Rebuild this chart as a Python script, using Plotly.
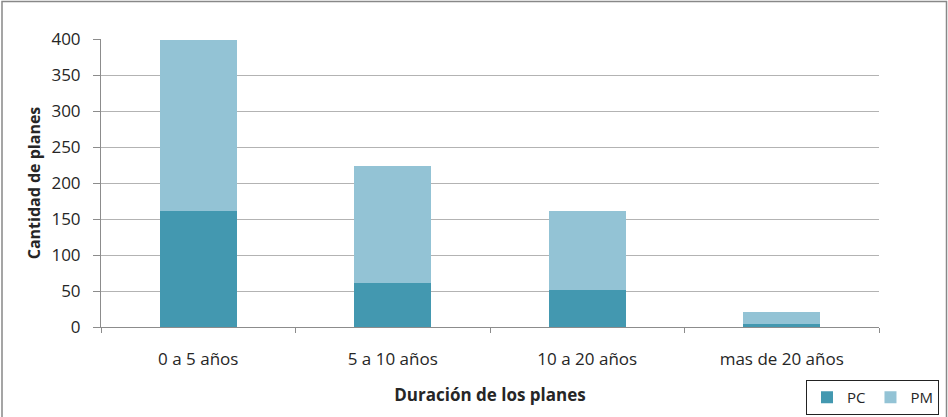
import plotly.graph_objects as go

categories = ["0 a 5 años", "5 a 10 años", "10 a 20 años", "mas de 20 años"]
pc_values = [161, 61, 52, 4]
pm_values = [237, 162, 109, 17]
y_ticks = [0, 50, 100, 150, 200, 250, 300, 350, 400]

W, H = 948, 417
L, R, T, B = 101, 69, 39, 90
pw, ph = W - L - R, H - T - B

def px(x):
    return (x - L) / pw

def py(y):
    return (H - B - y) / ph

font = "'Open Sans', sans-serif"

fig = go.Figure()
fig.add_bar(name="PC", x=categories, y=pc_values, marker_color="#4398B0",
            marker_line_width=0)
fig.add_bar(name="PM", x=categories, y=pm_values, marker_color="#93C3D5",
            marker_line_width=0)

fig.update_layout(
    width=W, height=H, barmode="stack", bargap=0.606,
    margin=dict(l=L, r=R, t=T, b=B, autoexpand=False),
    plot_bgcolor="white", paper_bgcolor="white",
    font=dict(family=font, size=17, color="#262626"),
    showlegend=True,
    legend=dict(orientation="h", x=px(939), y=py(380), xanchor="right", yanchor="top",
                traceorder="normal",
                bordercolor="#222222", borderwidth=1, font=dict(size=15),
                itemwidth=30, tracegroupgap=0),
    xaxis=dict(showgrid=False, showline=True, linecolor="#8C8C8C", linewidth=1,
               ticks="outside", tickson="boundaries", ticklen=5, tickcolor="#8C8C8C",
               ticklabelstandoff=17,
               title=dict(text="<b>Duración de los planes</b>", font=dict(size=17), standoff=19)),
    yaxis=dict(range=[0, 400], tickvals=y_ticks, showgrid=True, gridcolor="#B3B3B3",
               gridwidth=1, showline=True, linecolor="#8C8C8C", linewidth=1,
               ticks="outside", ticklen=7, tickcolor="#8C8C8C", zeroline=False,
               ticklabelstandoff=9,
               title=dict(text="<b>Cantidad de planes</b>", font=dict(size=16), standoff=6)),
    shapes=[dict(type="rect", xref="paper", yref="paper",
                 x0=px(2), x1=px(946.5), y0=py(430), y1=py(1.5),
                 line=dict(color="#888888", width=1.5), layer="below")],
)

fig.write_html("out.html", config={"displayModeBar": False},
               post_script="document.body.style.margin='0';document.body.style.padding='0';")
